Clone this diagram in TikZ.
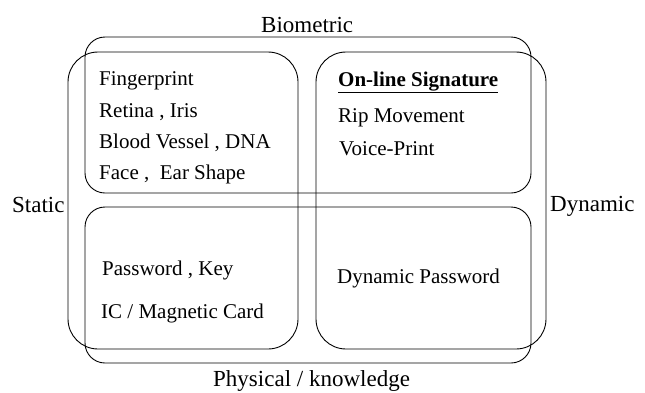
\documentclass[tikz,border=0pt]{standalone}
\usepackage{fontspec}
\setmainfont{Liberation Serif}
\begin{document}
\begin{tikzpicture}[x=1pt,y=-1pt,
  hbox/.style={draw=black,line width=0.9pt,rounded corners=20pt},
  vbox/.style={draw=black,line width=0.9pt,rounded corners=30pt},
  inlab/.style={anchor=base west,inner sep=0pt,font=\fontsize{21}{25}\selectfont},
  outlab/.style={anchor=base west,inner sep=0pt,font=\fontsize{23}{27}\selectfont}]
\useasboundingbox (0,0) rectangle (645,392);
% outer category boxes
\draw[hbox] (85,37) rectangle (531,193);   % Biometric
\draw[hbox] (85,207) rectangle (531,363);  % Physical / knowledge
\draw[vbox] (68,52) rectangle (298,349);   % Static
\draw[vbox] (316,52) rectangle (546,349);  % Dynamic
% category labels
\node[outlab] (bio) at (261,32) {Biometric};
\node[outlab] (sta) at (12,212) {Static};
\node[outlab] (dyn) at (550,211) {Dynamic};
\node[outlab] (phy) at (213,386) {Physical / knowledge};
% static biometric
\node[inlab] (fp) at (99,85) {Fingerprint};
\node[inlab] (ri) at (99,117) {Retina , Iris};
\node[inlab] (bv) at (99,148) {Blood Vessel , DNA};
\node[inlab] (fe) at (99,179) {Face ,\ \ Ear Shape};
% dynamic biometric
\node[inlab] (ols) at (338,86) {\textbf{\underline{On-line Signature}}};
\node[inlab] (rip) at (338,122) {Rip Movement};
\node[inlab] (vp) at (339,155) {Voice-Print};
% static physical
\node[inlab] (pk) at (102,275) {Password , Key};
\node[inlab] (ic) at (101,318) {IC / Magnetic Card};
% dynamic physical
\node[inlab] (dp) at (337,283) {Dynamic Password};
\end{tikzpicture}
\end{document}
